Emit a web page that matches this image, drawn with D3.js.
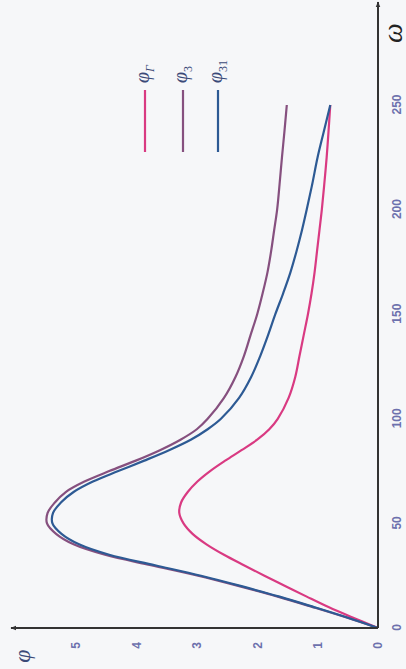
<!DOCTYPE html>
<html>
<head>
<meta charset="utf-8">
<script src="https://cdn.jsdelivr.net/npm/d3@7/dist/d3.min.js"></script>
<style>
  html, body { margin: 0; padding: 0; background: #f6f7f9; }
  svg { display: block; }
</style>
</head>
<body>
<svg id="chart" width="406" height="669"></svg>
<script>
// Frequency grid (ω) shared by all three response curves
const omega = [0, 5, 10, 15, 20, 25, 30, 35, 40, 45, 50, 55, 60, 65, 70, 75, 80, 85, 90, 95,
               100, 110, 120, 130, 140, 150, 160, 170, 180, 190, 200, 212, 225, 237, 250];

// φ_Г
const phiG  = [0, 0.42, 0.82, 1.18, 1.53, 1.88, 2.22, 2.55, 2.84, 3.07, 3.22, 3.29, 3.26, 3.15, 2.99, 2.78, 2.53, 2.26, 2.00, 1.80,
               1.66, 1.48, 1.37, 1.30, 1.23, 1.16, 1.10, 1.05, 1.01, 0.97, 0.93, 0.89, 0.85, 0.82, 0.79];
// φ_3
const phi3  = [0, 0.52, 1.08, 1.66, 2.30, 2.98, 3.76, 4.52, 5.04, 5.33, 5.48, 5.47, 5.35, 5.17, 4.86, 4.45, 4.01, 3.61, 3.27, 3.00,
               2.82, 2.55, 2.36, 2.22, 2.11, 2.00, 1.91, 1.83, 1.77, 1.72, 1.67, 1.63, 1.59, 1.55, 1.51];
// φ_31
const phi31 = [0, 0.51, 1.06, 1.63, 2.26, 2.93, 3.69, 4.45, 4.95, 5.24, 5.39, 5.38, 5.25, 5.04, 4.72, 4.30, 3.87, 3.46, 3.10, 2.82,
               2.60, 2.30, 2.10, 1.95, 1.82, 1.70, 1.57, 1.45, 1.35, 1.26, 1.18, 1.09, 1.00, 0.90, 0.79];

const omegaTicks = [0, 50, 100, 150, 200, 250];
const phiTicks = [0, 1, 2, 3, 4, 5];

const seriesNames = ["Г", "3", "31"];
const seriesColors = ["#d93a82", "#86507f", "#2d5a94"];
const seriesValues = [phiG, phi3, phi31];

const svg = d3.select("#chart");

// The plot is laid out with ω running upward and φ running leftward
const g = svg.append("g").attr("transform", "translate(378,628) rotate(-90)");

const x = d3.scaleLinear().domain([0, 250]).range([0, 523]);
const y = d3.scaleLinear().domain([0, 5]).range([0, -302]);

// Arrow marker for the axes
const defs = svg.append("defs");
defs.append("marker")
  .attr("id", "arrow")
  .attr("viewBox", "0 0 10 10")
  .attr("refX", 9).attr("refY", 5)
  .attr("markerWidth", 6).attr("markerHeight", 6)
  .attr("markerUnits", "userSpaceOnUse")
  .attr("orient", "auto")
  .append("path")
  .attr("d", "M0,1 L10,5 L0,9 Z")
  .attr("fill", "#333");

// Curves
const line = d3.line()
  .x((d, i) => x(omega[i]))
  .y(d => y(d))
  .curve(d3.curveCatmullRom.alpha(0.5));

g.selectAll("path.curve")
  .data(seriesValues)
  .join("path")
  .attr("class", "curve")
  .attr("d", d => line(d))
  .attr("fill", "none")
  .attr("stroke", (d, i) => seriesColors[i])
  .attr("stroke-width", 2.2)
  .attr("stroke-linejoin", "round");

// Axis lines with arrows
g.append("line")
  .attr("x1", 0).attr("y1", 0).attr("x2", 626).attr("y2", 0)
  .attr("stroke", "#333").attr("stroke-width", 2)
  .attr("marker-end", "url(#arrow)");
g.append("line")
  .attr("x1", 0).attr("y1", 0).attr("x2", 0).attr("y2", -367)
  .attr("stroke", "#333").attr("stroke-width", 2)
  .attr("marker-end", "url(#arrow)");

// Tick labels
const tickColor = "#6d71ad";
const xAxis = g.append("g")
  .call(d3.axisBottom(x).tickValues(omegaTicks).tickSize(0).tickPadding(14).tickFormat(d3.format("d")));
const yAxis = g.append("g")
  .call(d3.axisLeft(y).tickValues(phiTicks).tickSize(0).tickPadding(14).tickFormat(d3.format("d")));
[xAxis, yAxis].forEach(a => {
  a.select(".domain").remove();
  a.selectAll("text")
    .attr("fill", tickColor)
    .attr("font-family", "'Liberation Sans', Arial, sans-serif")
    .attr("font-weight", "bold")
    .attr("font-size", 12);
});

// Axis titles
g.append("text")
  .attr("x", 595).attr("y", 14)
  .attr("text-anchor", "middle").attr("dominant-baseline", "central")
  .attr("font-family", "'Liberation Serif', 'Times New Roman', serif")
  .attr("font-style", "italic")
  .attr("font-size", 28)
  .attr("fill", "#222")
  .text("ω");
g.append("text")
  .attr("x", -28).attr("y", -356)
  .attr("text-anchor", "middle").attr("dominant-baseline", "central")
  .attr("font-family", "'Liberation Serif', 'Times New Roman', serif")
  .attr("font-style", "italic")
  .attr("font-size", 24)
  .attr("fill", "#3b4a78")
  .text("φ");

// Legend
const legendY = [-233, -195, -160];
const legend = g.selectAll("g.legend")
  .data(seriesNames)
  .join("g")
  .attr("class", "legend")
  .attr("transform", (d, i) => `translate(0,${legendY[i]})`);
legend.append("line")
  .attr("x1", 476).attr("x2", 538)
  .attr("y1", 0).attr("y2", 0)
  .attr("stroke", (d, i) => seriesColors[i])
  .attr("stroke-width", 2.2);
const lt = legend.append("text")
  .attr("x", 545).attr("y", 4)
  .attr("font-family", "'Liberation Serif', 'Times New Roman', serif")
  .attr("font-style", "italic")
  .attr("font-size", 20)
  .attr("fill", "#3b4a78");
lt.append("tspan").text("φ");
lt.append("tspan")
  .attr("font-size", 12)
  .attr("font-style", d => d === "Г" ? "italic" : "normal")
  .attr("dy", 5)
  .text(d => d);
</script>
</body>
</html>
